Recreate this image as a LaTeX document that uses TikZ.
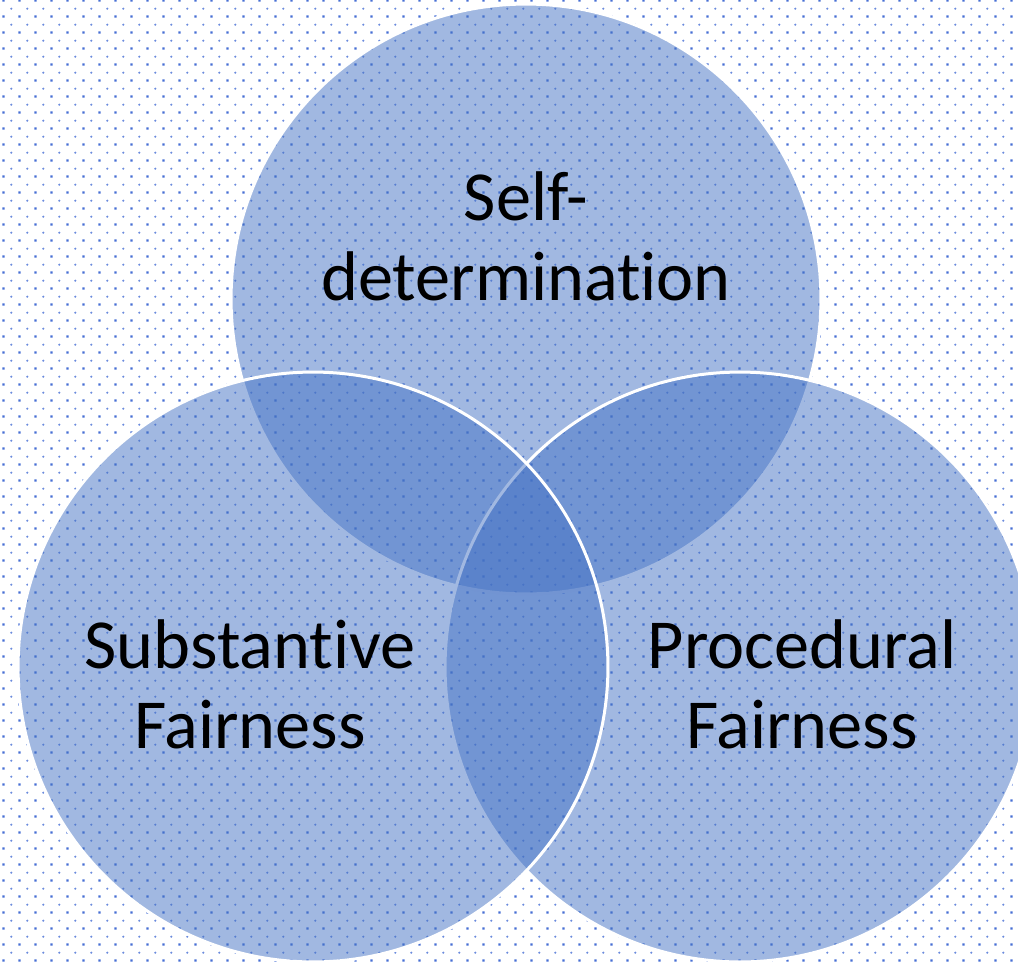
\documentclass[tikz,border=0pt]{standalone}
\usepackage{fontspec}
\setmainfont{Carlito}[Ligatures=NoCommon]
\usetikzlibrary{patterns.meta}

\definecolor{vennblue}{RGB}{68,114,196}
\definecolor{dotblue}{RGB}{70,110,212}

\tikzdeclarepattern{
  name=bgdots,
  type=colored,
  bounding box={(0,0) and (0.32cm,0.32cm)},
  tile size={(0.32cm,0.32cm)},
  code={
    \fill[dotblue] (0.05cm,0.05cm) rectangle (0.094cm,0.094cm);
    \fill[dotblue!80] (0.226cm,0.226cm) circle (0.024cm);
  }
}

\tikzset{
  venn/.style={circle, minimum size=11.8cm, inner sep=0pt, draw=white,
    line width=0.06cm, fill=vennblue, fill opacity=0.5},
  lbl/.style={font=\fontsize{40}{45.5}\selectfont, align=center, text=black}
}

\begin{document}
\begin{tikzpicture}[x=0.02cm, y=-0.02cm]
  \useasboundingbox (0,0) rectangle (1018,964);
  \clip (0,0) rectangle (1018,964);
  %% dotted backdrop
  \fill[pattern=bgdots] (0,0) rectangle (1018,964);
  %% circles: top, right, left
  \node[venn] (selfdet) at (526,299) {};
  \node[venn] (procfair) at (740,667) {};
  \node[venn] (substfair) at (313,667) {};
  %% labels (base = last line)
  \node[lbl, anchor=base] (selflbl) at (526,300) {Self-\\determination};
  \node[lbl, anchor=base] (substlbl) at (250,748) {Substantive\\Fairness};
  \node[lbl, anchor=base] (proclbl) at (802,748) {Procedural\\Fairness};
\end{tikzpicture}
\end{document}
